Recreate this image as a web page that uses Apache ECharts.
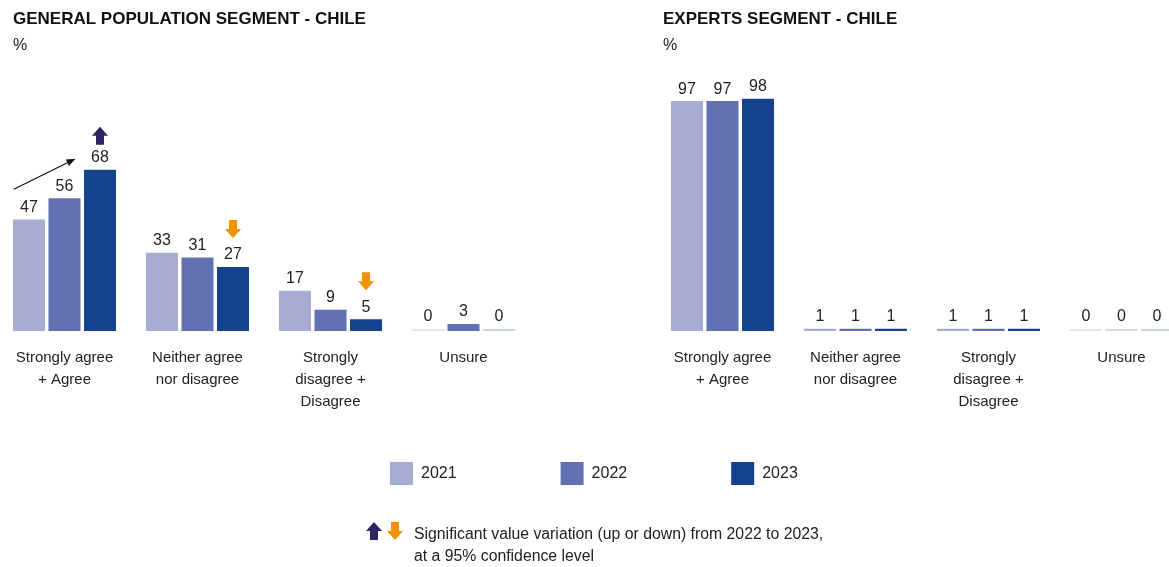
<!DOCTYPE html>
<html>
<head>
<meta charset="utf-8">
<script src="https://cdn.jsdelivr.net/npm/echarts@6/dist/echarts.min.js"></script>
<style>
  html, body { margin: 0; padding: 0; background: #fff; }
  #main { width: 1169px; height: 567px; }
</style>
</head>
<body>
<div id="main"></div>
<script>
// data
const categories = ['Strongly agree\n+ Agree', 'Neither agree\nnor disagree', 'Strongly\ndisagree +\nDisagree', 'Unsure'];
const years = ['2021', '2022', '2023'];
const general2021 = [47, 33, 17, 0];
const general2022 = [56, 31, 9, 3];
const general2023 = [68, 27, 5, 0];
const experts2021 = [97, 1, 1, 0];
const experts2022 = [97, 1, 1, 0];
const experts2023 = [98, 1, 1, 0];
// significant change 2022 -> 2023 (general population)
const general2023Sig = ['up', 'down', 'down', null];

const FONT = "'Liberation Sans', Arial, sans-serif";
const colors = ['#a6acd3', '#6170b0', '#15428f'];
const zeroColors = ['#e3e5f2', '#d3d8ec', '#c9d4ea'];
const upColor = '#2d2463';
const downColor = '#f39200';
const upPath = 'path://M8 0 L16 9 L12 9 L12 18 L4 18 L4 9 L0 9 Z';
const downPath = 'path://M4 0 L12 0 L12 9 L16 9 L8 18 L0 9 L4 9 Z';
const trendPath = 'path://M-0.26 29.46 L53.64 3.36 L52.38 0.75 L62 0 L55.42 7.05 L54.16 4.44 L0.26 30.54 Z';

function toItems(arr, idx) {
  return arr.map(v => v === 0 ? { value: v, itemStyle: { color: zeroColors[idx] } } : v);
}

function barSeries(name, values, idx, gridIdx) {
  return {
    name: name,
    type: 'bar',
    xAxisIndex: gridIdx,
    yAxisIndex: gridIdx,
    data: toItems(values, idx),
    barWidth: 32,
    barGap: '11%',
    barMinHeight: 2,
    itemStyle: { color: colors[idx] },
    label: {
      show: true, position: 'top', distance: 4,
      fontFamily: FONT, fontSize: 16, color: '#222'
    },
    emphasis: { disabled: true }
  };
}

const series = [
  barSeries(years[0], general2021, 0, 0),
  barSeries(years[1], general2022, 1, 0),
  barSeries(years[2], general2023, 2, 0),
  barSeries(years[0], experts2021, 0, 1),
  barSeries(years[1], experts2022, 1, 1),
  barSeries(years[2], experts2023, 2, 1)
];

// trend arrow over the first group (2021 -> 2022)
series[1].markPoint = {
  silent: true,
  label: { show: false },
  data: [{
    coord: [0, general2022[0]], symbol: trendPath, symbolSize: [62, 31],
    symbolOffset: [-20, -24], itemStyle: { color: '#111' }
  }]
};

// significance arrows on the 2023 bars
series[2].markPoint = {
  silent: true,
  label: { show: false },
  data: general2023Sig.map((s, i) => s ? {
    coord: [i, general2023[i]],
    symbol: s === 'up' ? upPath : downPath,
    symbolSize: [16, 18],
    symbolOffset: [0, s === 'up' ? -34 : -38],
    itemStyle: { color: s === 'up' ? upColor : downColor }
  } : null).filter(Boolean)
};

function xAxis(gridIdx) {
  return {
    type: 'category', gridIndex: gridIdx, data: categories,
    axisLine: { show: false }, axisTick: { show: false },
    axisLabel: {
      interval: 0, margin: 16, fontFamily: FONT, fontSize: 15,
      lineHeight: 22, color: '#222'
    }
  };
}
function yAxis(gridIdx) {
  return { type: 'value', gridIndex: gridIdx, min: 0, max: 100, show: false };
}

const option = {
  animation: false,
  backgroundColor: '#fff',
  textStyle: { fontFamily: FONT },
  title: [
    {
      text: 'GENERAL POPULATION SEGMENT - CHILE', subtext: '%',
      left: 8, top: 6, itemGap: 10,
      textStyle: { fontFamily: FONT, fontSize: 17, fontWeight: 'bold', color: '#111' },
      subtextStyle: { fontFamily: FONT, fontSize: 16, color: '#222' }
    },
    {
      text: 'EXPERTS SEGMENT - CHILE', subtext: '%',
      left: 658, top: 6, itemGap: 10,
      textStyle: { fontFamily: FONT, fontSize: 17, fontWeight: 'bold', color: '#111' },
      subtextStyle: { fontFamily: FONT, fontSize: 16, color: '#222' }
    }
  ],
  legend: {
    data: years, left: 385, top: 457,
    itemWidth: 23, itemHeight: 23, itemGap: 104,
    icon: 'rect', selectedMode: false,
    textStyle: { fontFamily: FONT, fontSize: 16, color: '#222', padding: [0, 0, 0, 3] }
  },
  grid: [
    { left: -2, width: 532, top: 94, height: 237, outerBoundsMode: 'none' },
    { left: 656, width: 532, top: 94, height: 237, outerBoundsMode: 'none' }
  ],
  xAxis: [xAxis(0), xAxis(1)],
  yAxis: [yAxis(0), yAxis(1)],
  series: series,
  graphic: [
    { type: 'polygon', shape: { points: [[8, 0], [16, 9], [12, 9], [12, 18], [4, 18], [4, 9], [0, 9]] }, x: 366, y: 522, style: { fill: upColor } },
    { type: 'polygon', shape: { points: [[4, 0], [12, 0], [12, 9], [16, 9], [8, 18], [0, 9], [4, 9]] }, x: 387, y: 522, style: { fill: downColor } },
    {
      type: 'text', x: 414, y: 524,
      style: {
        text: 'Significant value variation (up or down) from 2022 to 2023,\nat a 95% confidence level',
        font: '15.8px ' + FONT, lineHeight: 22, fill: '#222'
      }
    }
  ]
};

const chart = echarts.init(document.getElementById('main'));
chart.setOption(option);
</script>
</body>
</html>
